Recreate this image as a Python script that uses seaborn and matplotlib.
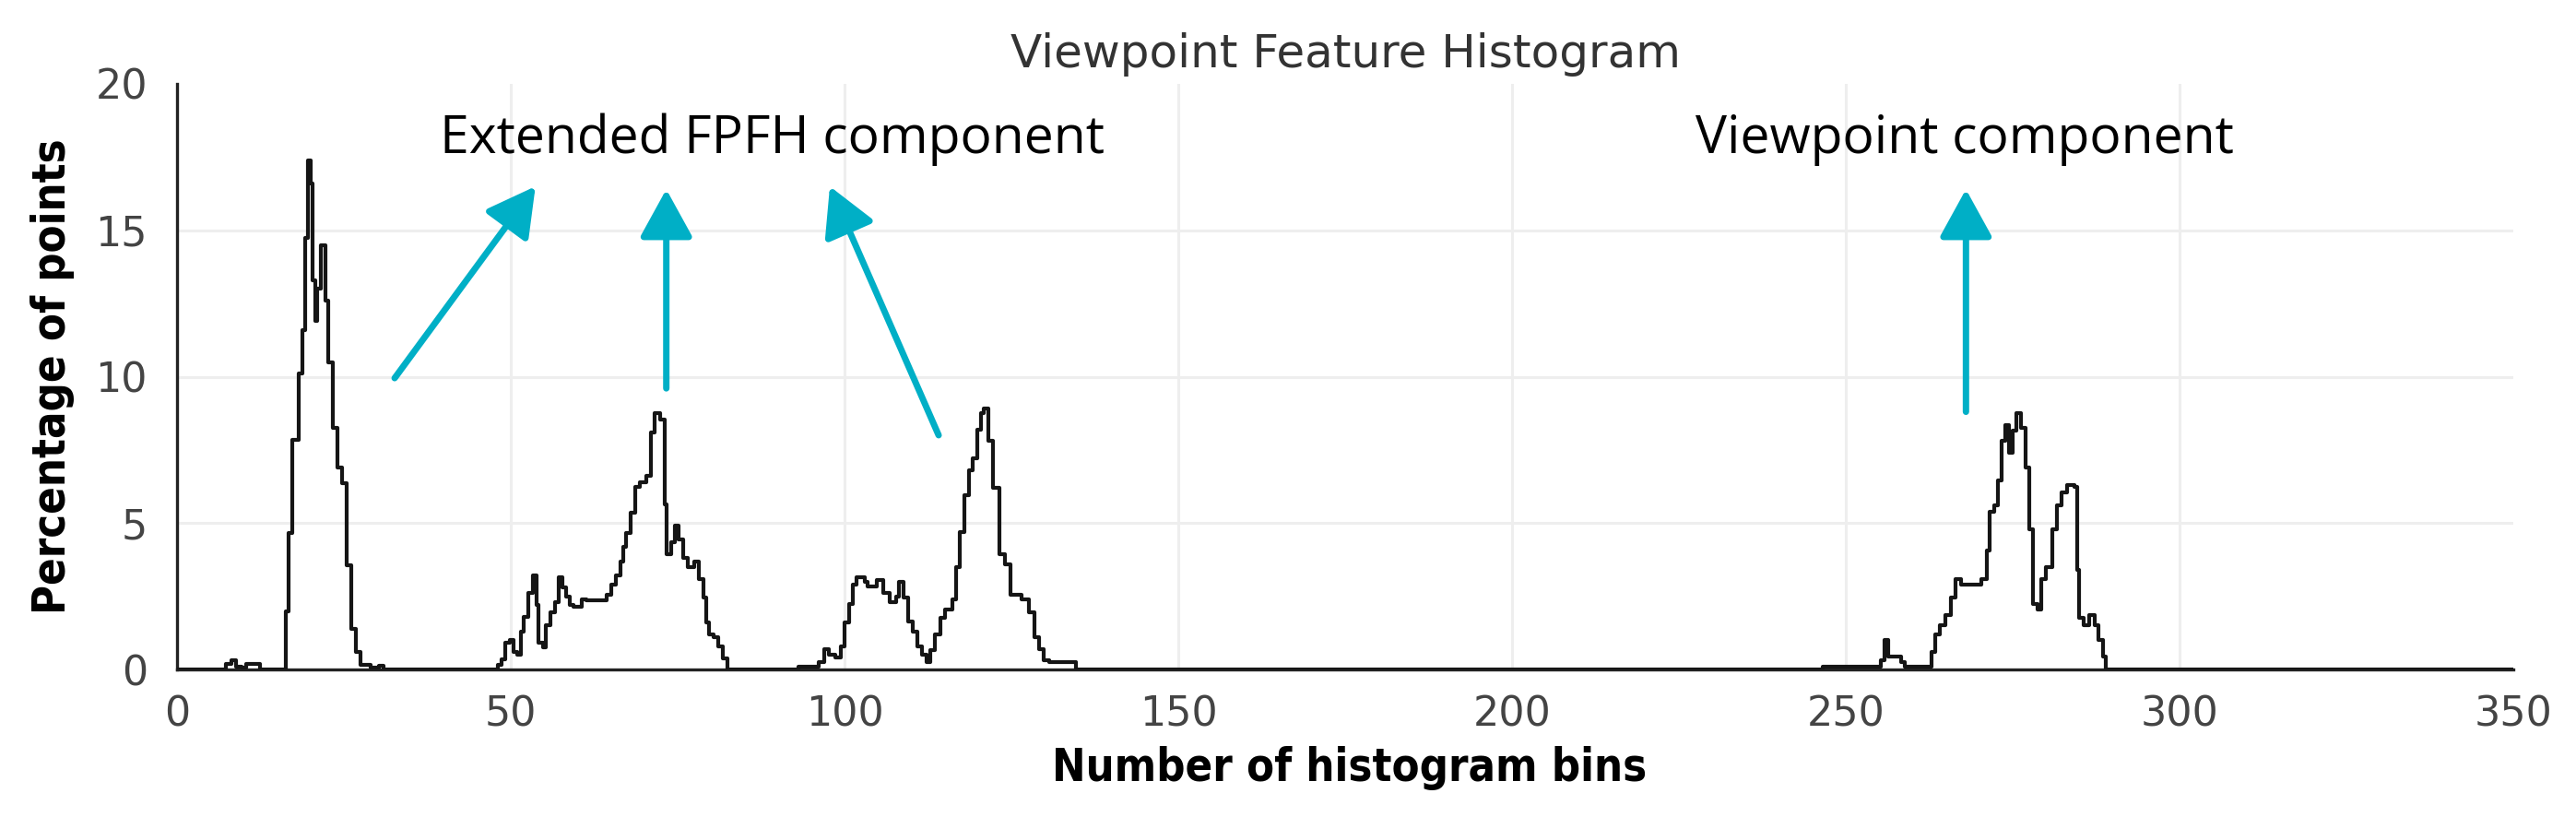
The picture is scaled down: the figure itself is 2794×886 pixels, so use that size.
import numpy as np
import pandas as pd
import matplotlib
matplotlib.use("Agg")
import matplotlib.pyplot as plt
import seaborn as sns

# histogram trace (step edges in bin units, value in %)
noise_bins = [0, 7.3, 8.2, 8.9, 9.6, 10.3, 12.4]
noise_pct = [0, 0.2, 0.3, 0.1, 0.05, 0.2, 0]

peak1_bins = [16.3, 16.76, 17.2, 18.2, 18.8, 19.15, 19.6, 20.0, 20.3, 20.7, 21.0, 21.6,
              22.2, 22.6, 23.4, 24.1, 24.7, 25.4, 26.1, 26.8, 27.5, 29.0, 30.3, 31.0]
peak1_pct = [2.0, 4.65, 7.85, 10.1, 11.6, 14.75, 17.4, 16.6, 13.3, 11.9, 13.0, 14.5,
             12.6, 10.5, 8.25, 6.9, 6.35, 3.55, 1.4, 0.6, 0.15, 0.05, 0.12, 0]

peak2_bins = [48.0, 48.6, 49.2, 49.9, 50.4, 51.0, 51.5, 52.0, 52.6, 53.3, 53.8, 54.1,
              54.8, 55.3, 56.0, 56.6, 57.2, 57.8, 58.3, 58.8, 59.4, 60.6, 61.3, 64.3,
              65.0, 65.7, 66.4, 66.8, 67.3, 68.0, 68.7, 69.4, 70.3, 71.0, 71.5, 72.4,
              73.0, 73.4, 74.0, 74.6, 75.2, 75.8, 76.5, 77.5, 78.2, 78.8, 79.3, 79.7,
              80.4, 81.1, 81.8, 82.5]
peak2_pct = [0.15, 0.35, 0.9, 1.0, 0.6, 0.5, 1.3, 1.8, 2.6, 3.2, 2.2, 0.9,
             0.75, 1.5, 1.95, 2.3, 3.15, 2.8, 2.5, 2.2, 2.15, 2.4, 2.35, 2.55,
             2.9, 3.2, 3.7, 4.2, 4.65, 5.35, 6.25, 6.4, 6.6, 8.1, 8.75, 8.55,
             5.65, 3.95, 4.35, 4.9, 4.45, 3.8, 3.5, 3.7, 3.1, 2.45, 1.6, 1.2,
             1.1, 0.8, 0.37, 0]

peak3_bins = [93.1, 96.1, 97.0, 97.6, 98.6, 99.5, 100.0, 100.7, 101.2, 101.8, 103.0,
              103.5, 104.8, 105.8, 106.8, 107.8, 108.2, 108.8, 109.5, 110.2, 110.9,
              111.6, 112.3, 112.9, 113.6, 114.3, 115.1, 116.1, 116.7, 117.3, 117.9,
              118.6, 119.2, 119.9, 120.4, 120.9, 121.6, 122.2, 123.2, 124.0, 124.8,
              126.5, 127.6, 128.5, 129.2, 129.9, 130.6, 134.6]
peak3_pct = [0.1, 0.25, 0.7, 0.5, 0.4, 0.8, 1.6, 2.25, 2.9, 3.15, 3.0,
             2.85, 3.05, 2.6, 2.3, 2.5, 3.0, 2.45, 1.65, 1.3, 0.8,
             0.5, 0.25, 0.65, 1.2, 1.75, 2.05, 2.4, 3.5, 4.7, 5.95,
             6.8, 7.2, 8.2, 8.75, 8.9, 7.8, 6.2, 3.95, 3.6, 2.55,
             2.4, 1.95, 1.1, 0.7, 0.3, 0.25, 0]

view_bins = [246.5, 255.3, 255.8, 256.4, 258.3, 258.9, 262.8, 263.4, 264.1, 264.9,
             265.7, 266.4, 267.2, 270.3, 271.1, 271.6, 272.2, 272.8, 273.3, 273.9,
             274.4, 275.0, 275.6, 276.3, 276.9, 277.5, 278.1, 278.7, 279.3, 280.0,
             280.9, 281.6, 282.3, 283.1, 284.3, 284.6, 285.0, 285.6, 286.4, 287.3,
             287.9, 288.5, 288.9, 350]
view_pct = [0.08, 0.3, 1.0, 0.45, 0.25, 0.08, 0.6, 1.2, 1.5, 1.85,
            2.45, 3.1, 2.9, 3.1, 4.05, 5.4, 5.6, 6.45, 7.8, 8.35,
            7.4, 8.15, 8.75, 8.25, 6.9, 4.8, 2.25, 2.05, 3.1, 3.5,
            4.8, 5.6, 6.05, 6.3, 6.25, 3.4, 1.75, 1.5, 1.85, 1.5,
            1.0, 0.45, 0, 0]

# annotation arrows: (tail bin, tail %, head bin, head %)
arrow_tails_x = [32.6, 73.3, 114.1, 268.0]
arrow_tails_y = [9.95, 9.6, 8.0, 8.8]
arrow_heads_x = [53.7, 73.3, 97.8, 268.0]
arrow_heads_y = [16.5, 16.4, 16.5, 16.4]

labels = ["Extended FPFH component", "Viewpoint component"]
labels_x = [89.2, 267.8]
labels_y = [18.1, 18.1]

x_ticks = [0, 50, 100, 150, 200, 250, 300, 350]
y_ticks = [0, 5, 10, 15, 20]

df = pd.DataFrame({
    "bin": noise_bins + peak1_bins + peak2_bins + peak3_bins + view_bins,
    "pct": noise_pct + peak1_pct + peak2_pct + peak3_pct + view_pct,
})

sns.set_style("white")
plt.rcParams["font.family"] = ["DejaVu Sans"]

fig = plt.figure(figsize=(27.94, 8.86), dpi=100)
ax = fig.add_axes([192 / 2794, 1 - 726 / 886, 2534 / 2794, 635 / 886])

sns.lineplot(data=df, x="bin", y="pct", ax=ax, estimator=None, sort=False,
             drawstyle="steps-post", color="#151515", lw=3.0, zorder=3)

ax.set_xlim(0, 350)
ax.set_ylim(0, 20)
ax.set_xticks(x_ticks)
ax.set_yticks(y_ticks)
ax.grid(True, color="#eeeeee", lw=2.2, zorder=0)
for gl in [ax.xaxis.get_gridlines()[0], ax.xaxis.get_gridlines()[-1],
           ax.yaxis.get_gridlines()[0], ax.yaxis.get_gridlines()[-1]]:
    gl.set_visible(False)

for side in ["top", "right"]:
    ax.spines[side].set_visible(False)
for side in ["left", "bottom"]:
    ax.spines[side].set_color("#222222")
    ax.spines[side].set_linewidth(2.4)
ax.tick_params(axis="both", direction="out", length=16, width=2.2, color="#222222",
               labelsize=32, labelcolor="#444444")
ax.tick_params(axis="x", pad=4)
ax.tick_params(axis="y", pad=7)

label_font = dict(family=["DejaVu Sans"], weight="bold", stretch="condensed",
                  size=35, color="black")
ax.set_xlabel("Number of histogram bins", **label_font)
ax.set_ylabel("Percentage of points", **label_font)
ax.xaxis.set_label_coords(0.502, -0.13)
ax.yaxis.set_label_coords(-0.044, 0.5)

fig.text(1459 / 2794, 1 - 59 / 886, "Viewpoint Feature Histogram", ha="center",
         va="center", fontsize=36, color="#333333")

cyan = "#00AFC6"
for tx, ty, hx, hy in zip(arrow_tails_x, arrow_tails_y, arrow_heads_x, arrow_heads_y):
    ax.annotate("", xy=(hx, hy), xytext=(tx, ty),
                arrowprops=dict(arrowstyle="-|>,head_length=0.4,head_width=0.22",
                                color=cyan, lw=5, mutation_scale=80,
                                shrinkA=0, shrinkB=0), zorder=4)

for text, lx, ly in zip(labels, labels_x, labels_y):
    ax.text(lx, ly, text, ha="center", va="center", fontsize=41,
            family=["Open Sans", "DejaVu Sans"], color="black", zorder=5)

fig.savefig("out.png", dpi=100)
